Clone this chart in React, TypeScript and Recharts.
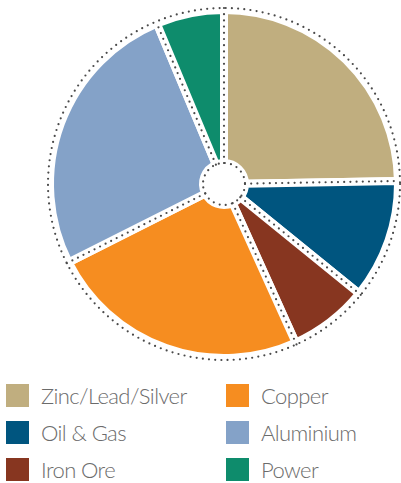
import { PieChart, Pie, Cell } from 'recharts';

const sectors = ['Zinc/Lead/Silver', 'Oil & Gas', 'Iron Ore', 'Copper', 'Aluminium', 'Power'];
const shares = [24.7, 11.1, 7.4, 24.3, 26.1, 6.3];
const colors = ['#c0ae7f', '#00557f', '#873620', '#f68d20', '#84a2c8', '#0e8c6c'];

const data = sectors.map((name, i) => ({ name, value: shares[i] }));

const RAD = Math.PI / 180;
const dotStyle = {
  stroke: '#4a4a4a',
  strokeWidth: 2.2,
  strokeDasharray: '0 6.2',
  strokeLinecap: 'round' as const,
  fill: 'none',
};

// dotted separators + rings, drawn from each sector's own geometry
function Separators(props: any) {
  const { cx, cy, startAngle, innerRadius, outerRadius, index } = props;
  const rIn = innerRadius;
  const rOut = outerRadius + 2;
  const cos = Math.cos(-startAngle * RAD);
  const sin = Math.sin(-startAngle * RAD);
  return (
    <g>
      <line
        x1={cx + rIn * cos}
        y1={cy + rIn * sin}
        x2={cx + rOut * cos}
        y2={cy + rOut * sin}
        {...dotStyle}
      />
      {index === 0 && (
        <>
          <circle cx={cx} cy={cy} r={rOut} {...dotStyle} />
          <circle cx={cx} cy={cy} r={rIn} {...dotStyle} />
        </>
      )}
    </g>
  );
}

export default function App() {
  return (
    <div
      style={{
        position: 'fixed',
        left: 0,
        top: 0,
        width: 401,
        height: 483,
        background: '#fff',
        fontFamily: 'Lato, "Open Sans", sans-serif',
      }}
    >
      <PieChart width={401} height={370} margin={{ top: 0, right: 0, bottom: 0, left: 0 }}>
        <Pie
          data={data}
          dataKey="value"
          nameKey="name"
          cx={224}
          cy={184}
          innerRadius={21}
          outerRadius={174}
          startAngle={90}
          endAngle={-270}
          stroke="#fff"
          strokeWidth={8}
          label={Separators}
          labelLine={false}
          isAnimationActive={false}
        >
          {data.map((d, i) => (
            <Cell key={d.name} fill={colors[i]} />
          ))}
        </Pie>
      </PieChart>
      <div
        style={{
          position: 'absolute',
          left: 6,
          top: 384,
          display: 'grid',
          gridTemplateRows: 'repeat(3, 23px)',
          gridTemplateColumns: '220px 170px',
          gridAutoFlow: 'column',
          rowGap: 14,
        }}
      >
        {sectors.map((name, i) => (
          <div key={name} style={{ display: 'flex', alignItems: 'center', height: 23 }}>
            <span style={{ width: 23, height: 23, background: colors[i], display: 'inline-block' }} />
            <span
              style={{
                marginLeft: 12,
                fontSize: 22,
                fontWeight: 300,
                letterSpacing: -0.6,
                color: '#6b6b6b',
                whiteSpace: 'nowrap',
                lineHeight: '23px',
              }}
            >
              {name}
            </span>
          </div>
        ))}
      </div>
    </div>
  );
}
